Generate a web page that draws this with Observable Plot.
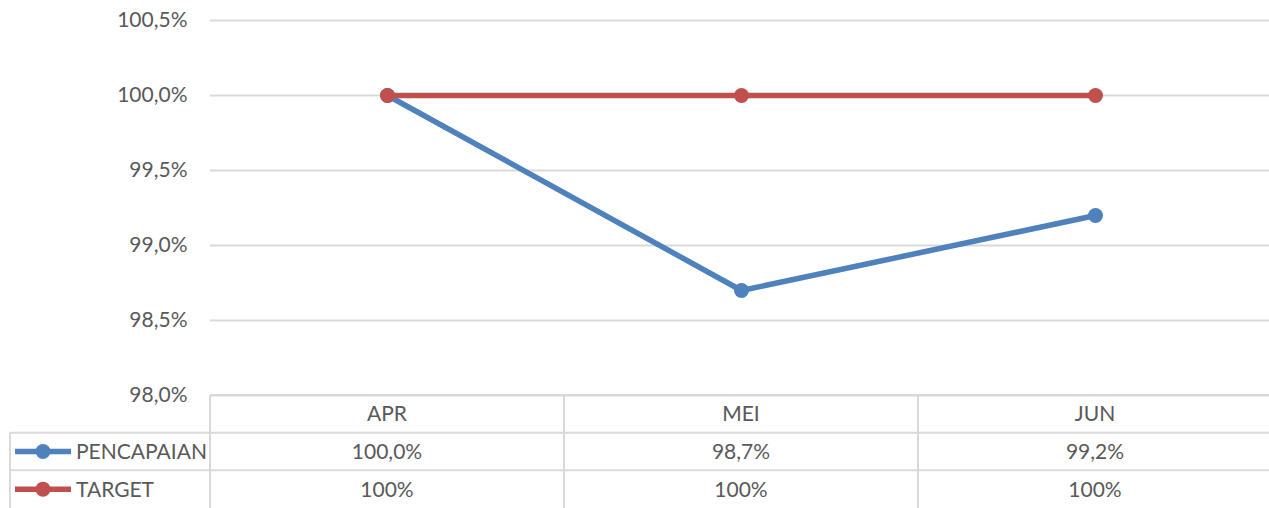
<!DOCTYPE html>
<html>
<head>
<meta charset="utf-8">
<script src="https://cdn.jsdelivr.net/npm/d3@7"></script>
<script src="https://cdn.jsdelivr.net/npm/@observablehq/plot@0.6"></script>
<style>
  html, body { margin: 0; padding: 0; background: #fff; overflow: hidden; }
  #chart svg { max-width: none !important; }
</style>
</head>
<body>
<div id="chart"></div>
<script>
const months = ["APR", "MEI", "JUN"];
const seriesNames = ["PENCAPAIAN", "TARGET"];
const seriesColors = ["#4F81BD", "#C0504D"];
const pencapaian = [100.0, 98.7, 99.2];
const target = [100, 100, 100];
const yTicks = [98.0, 98.5, 99.0, 99.5, 100.0, 100.5];

const fmt1 = v => d3.format(".1f")(v).replace(".", ",") + "%";
const fmt0 = v => d3.format(".0f")(v) + "%";
const tableRows = [
  {name: seriesNames[0], color: seriesColors[0], labels: pencapaian.map(fmt1)},
  {name: seriesNames[1], color: seriesColors[1], labels: target.map(fmt0)}
];

const data = months.flatMap((m, i) => [
  {month: m, series: seriesNames[0], value: pencapaian[i]},
  {month: m, series: seriesNames[1], value: target[i]}
]);

const gridColor = "#d9d9d9";
const textColor = "#595959";
const fontSize = 21;

function tableMark(index, scales, values, dims) {
  const x = scales.x;
  const step = x(months[1]) - x(months[0]);
  const top = dims.height - dims.marginBottom;
  const rowH = dims.marginBottom / 3;
  const left = dims.marginLeft;
  const right = dims.width;
  const g = d3.create("svg:g")
    .attr("font-family", "Lato, 'Open Sans', sans-serif")
    .attr("font-size", fontSize)
    .attr("fill", textColor);
  g.append("line").attr("x1", left).attr("x2", right).attr("y1", top).attr("y2", top)
    .attr("stroke", gridColor).attr("stroke-width", 2);
  for (let r = 1; r <= 2; r++) {
    const yy = top + rowH * r;
    g.append("line").attr("x1", 10).attr("x2", right).attr("y1", yy).attr("y2", yy)
      .attr("stroke", gridColor).attr("stroke-width", 2);
  }
  g.append("line").attr("x1", 10).attr("x2", 10).attr("y1", top + rowH).attr("y2", dims.height)
    .attr("stroke", gridColor).attr("stroke-width", 2);
  months.forEach(m => {
    const xe = x(m) - step / 2;
    g.append("line").attr("x1", xe).attr("x2", xe).attr("y1", top).attr("y2", dims.height)
      .attr("stroke", gridColor).attr("stroke-width", 2);
  });
  months.forEach(m => {
    g.append("text").attr("x", x(m)).attr("y", top + rowH / 2).attr("dy", "0.36em")
      .attr("text-anchor", "middle").text(m);
  });
  tableRows.forEach((row, r) => {
    const cy = top + rowH * (r + 1.5);
    g.append("line").attr("x1", 15).attr("x2", 71).attr("y1", cy).attr("y2", cy)
      .attr("stroke", row.color).attr("stroke-width", 5.5);
    g.append("circle").attr("cx", 43).attr("cy", cy).attr("r", 7.5).attr("fill", row.color);
    g.append("text").attr("x", 76).attr("y", cy).attr("dy", "0.36em")
      .attr("text-anchor", "start").text(row.name);
    months.forEach((m, i) => {
      g.append("text").attr("x", x(m)).attr("y", cy).attr("dy", "0.36em")
        .attr("text-anchor", "middle").text(row.labels[i]);
    });
  });
  return g.node();
}

const chart = Plot.plot({
  width: 1272,
  height: 508,
  marginLeft: 210,
  marginRight: 0,
  marginTop: 20,
  marginBottom: 113,
  style: {fontFamily: "Lato, 'Open Sans', sans-serif", fontSize: fontSize + "px", color: textColor, background: "#fff", maxWidth: "none"},
  x: {type: "point", domain: months, padding: 0.5, axis: null},
  y: {domain: [98, 100.5], axis: null},
  color: {domain: seriesNames, range: seriesColors},
  marks: [
    Plot.ruleY(yTicks, {stroke: gridColor, strokeWidth: 2}),
    Plot.axisY(yTicks, {tickSize: 0, tickPadding: 23, tickFormat: fmt1, fontSize: fontSize, fill: textColor, label: null}),
    tableMark,
    Plot.line(data, {x: "month", y: "value", z: "series", stroke: "series", strokeWidth: 5.5}),
    Plot.dot(data, {x: "month", y: "value", fill: "series", r: 7.5})
  ]
});
document.getElementById("chart").appendChild(chart);
</script>
</body>
</html>
